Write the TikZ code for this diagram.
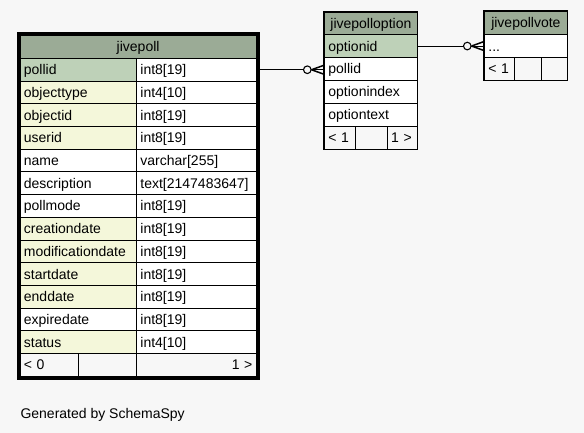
\documentclass[tikz,border=0pt]{standalone}
\usepackage{fontspec}
\setmainfont{Liberation Sans}
\usepackage{tikz}
\usetikzlibrary{fit}
\usetikzlibrary{decorations.markings}
\usepackage{xcolor}
\definecolor{bgfill}{HTML}{F7F7F7}
\definecolor{hdrfill}{HTML}{9BAB96}
\definecolor{pkfill}{HTML}{BED1B8}
\definecolor{fkfill}{HTML}{F4F7DA}
\tikzset{
  cell/.style={draw=black, line width=.8pt, anchor=north west, minimum height=22.7pt,
    inner xsep=4pt, inner ysep=0pt, text height=10pt, text depth=0pt,
    font=\fontsize{14}{16}\selectfont, align=left, fill=white},
  hdr/.style={cell, fill=hdrfill, align=center},
  foot/.style={cell, fill=bgfill},
  tablebox/.style={draw=black, inner sep=0pt, line width=1.2pt},
  crowfoot/.style={line width=.8pt, decoration={markings, mark=at position 1 with {
      \draw[line width=1.5pt] (-12.5pt,0pt) -- (0pt,4.5pt) (-12.5pt,0pt) -- (0pt,-4.5pt);
      \draw[line width=1.1pt, fill=bgfill] (-16.7pt,0pt) circle (3.8pt);}}, postaction={decorate}}
}

\begin{document}
\begin{tikzpicture}[x=1pt,y=-1pt]
% fond
\fill[bgfill] (0,0) rectangle (584,433);
%jivepoll
\node[hdr, text width=228.5pt] (poll) at (19.5,35) {jivepoll};
\foreach \n/\t/\f [count=\i] in {pollid/int8[19]/pkfill, objecttype/int4[10]/fkfill,
    objectid/int8[19]/fkfill, userid/int8[19]/fkfill, name/varchar[255]/white,
    description/text[2147483647]/white, pollmode/int8[19]/white,
    creationdate/int8[19]/fkfill, modificationdate/int8[19]/fkfill,
    startdate/int8[19]/fkfill, enddate/int8[19]/fkfill, expiredate/int8[19]/white,
    status/int4[10]/fkfill}{
  \node[cell, fill=\f, text width=108.5pt] (n\i) at (19.5,{58+22.7*(\i-1)}) {\n};
  \node[cell, text width=112pt] (t\i) at (136,{58+22.7*(\i-1)}) {\t};
}
\node[foot, text width=50.5pt] (pf1) at (19.5,353.1) {< 0};
\node[foot, text width=50pt] (pf2) at (78,353.1) {};
\node[foot, text width=112pt, align=right] (pf3) at (136,353.1) {1 >};
\node[tablebox, line width=3pt, inner sep=1.5pt, fit=(poll)(pf3)] (pollbox) {};
%jivepolloption
\node[hdr, text width=85pt] (opt) at (324,11.7) {jivepolloption};
\node[cell, fill=pkfill, text width=85pt] (o1) at (324,34.3) {optionid};
\node[cell, text width=85pt] (o2) at (324,57.2) {pollid};
\node[cell, text width=85pt] (o3) at (324,80.1) {optionindex};
\node[cell, text width=85pt] (o4) at (324,103) {optiontext};
\node[foot, text width=23.3pt] (of1) at (324,125.9) {< 1};
\node[foot, text width=23.4pt] (of2) at (355.3,125.9) {};
\node[foot, text width=22.3pt] (of3) at (386.7,125.9) {1 >};
\node[tablebox, fit=(opt)(of3)] (optbox) {};
%jivepollvote
\node[hdr, text width=75pt] (vote) at (484,11) {jivepollvote};
\node[cell, text width=75pt] (v1) at (484,34.3) {...};
\node[foot, text width=22.3pt] (vf1) at (484,57) {< 1};
\node[foot, text width=18.7pt] (vf2) at (514.3,57) {};
\node[foot, text width=18pt] (vf3) at (541,57) {};
\node[tablebox, fit=(vote)(vf3)] (votebox) {};
% liens
\draw[crowfoot] (t1.east) -- (t1.east -| o2.west);
\draw[crowfoot] (o1.east) -- (o1.east -| v1.west);
\node[anchor=base west, font=\fontsize{14}{16}\selectfont] (credit) at (17,418) {Generated by SchemaSpy};
\end{tikzpicture}
\end{document}
